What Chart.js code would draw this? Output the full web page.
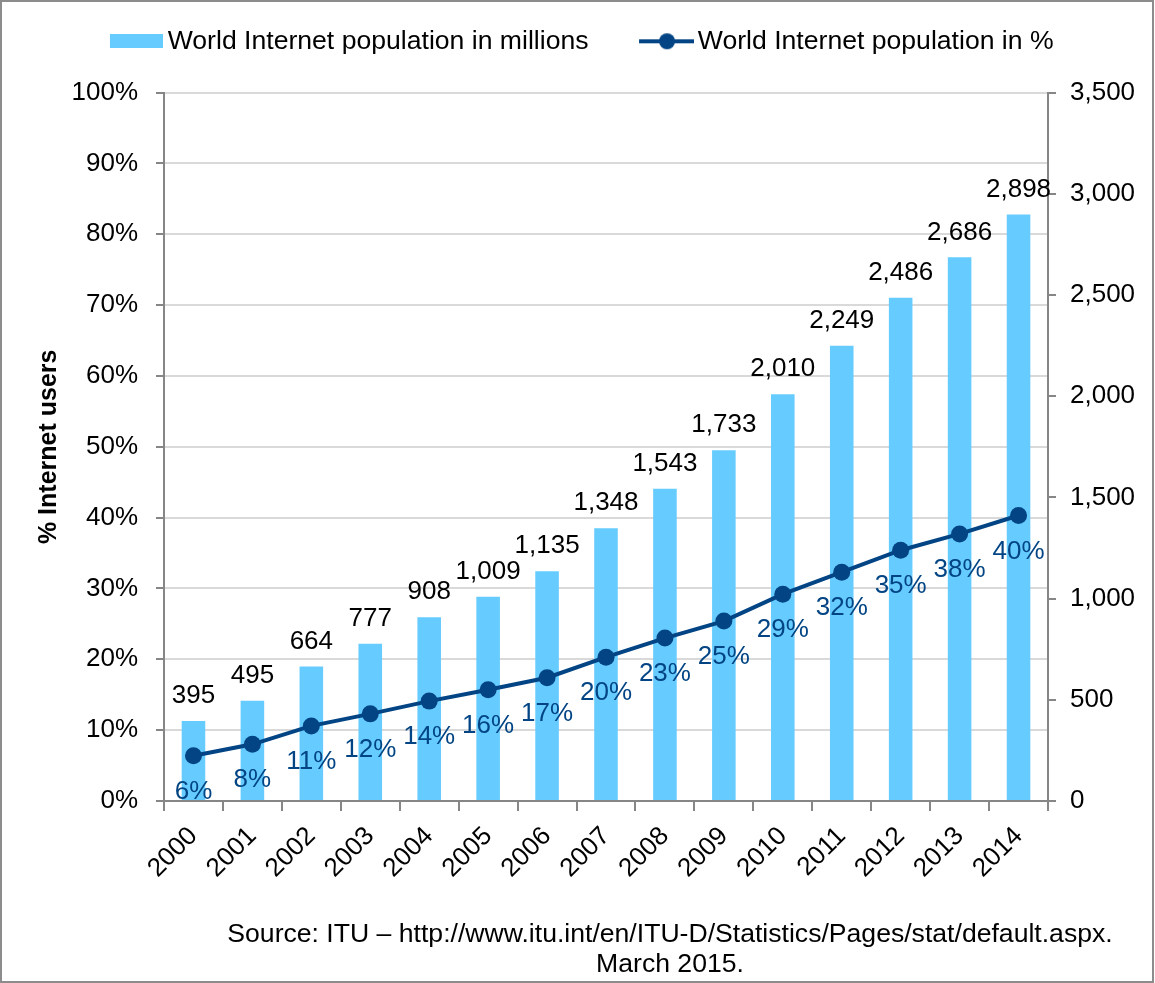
<!DOCTYPE html>
<html>
<head>
<meta charset="utf-8">
<script src="https://cdn.jsdelivr.net/npm/chart.js@4/dist/chart.umd.min.js"></script>
<style>
  body { margin: 0; background: #fff; }
  canvas { display: block; }
</style>
</head>
<body>
<canvas id="netChart" width="1155" height="983"></canvas>
<script>
const years = ['2000', '2001', '2002', '2003', '2004', '2005', '2006', '2007',
  '2008', '2009', '2010', '2011', '2012', '2013', '2014'];
const usersMillions = [395, 495, 664, 777, 908, 1009, 1135, 1348, 1543, 1733, 2010, 2249, 2486, 2686, 2898];
const usersPercent = [6.4, 8.0, 10.6, 12.3, 14.1, 15.7, 17.4, 20.3, 23.0, 25.4, 29.2, 32.3, 35.4, 37.7, 40.3];
const sourceLines = ['Source: ITU \u2013 http://www.itu.int/en/ITU-D/Statistics/Pages/stat/default.aspx.', 'March 2015.'];

const barColor = '#66CCFF';
const lineColor = '#034584';
const axisGray = '#868686';
const font = 'Liberation Sans, Arial, sans-serif';

// legend swatches as little canvases (offset so items land where Excel put them)
function barSwatch() {
  const c = document.createElement('canvas');
  c.width = 103; c.height = 14;
  const g = c.getContext('2d');
  g.fillStyle = barColor;
  g.fillRect(50, 0, 53, 14);
  return c;
}
function lineSwatch() {
  const c = document.createElement('canvas');
  c.width = 105; c.height = 18;
  const g = c.getContext('2d');
  g.strokeStyle = lineColor;
  g.lineWidth = 4;
  g.beginPath();
  g.moveTo(50, 9);
  g.lineTo(105, 9);
  g.stroke();
  g.fillStyle = lineColor;
  g.beginPath();
  g.arc(78, 9, 8, 0, Math.PI * 2);
  g.fill();
  return c;
}

const valueLabels = {
  id: 'valueLabels',
  afterDatasetsDraw(chart) {
    const ctx = chart.ctx;
    ctx.save();
    ctx.font = '26px ' + font;
    ctx.textAlign = 'center';
    ctx.textBaseline = 'middle';
    chart.getDatasetMeta(0).data.forEach((bar, i) => {
      ctx.fillStyle = '#000';
      ctx.fillText(usersMillions[i].toLocaleString('en-US'), bar.x, bar.y - 25);
    });
    chart.getDatasetMeta(1).data.forEach((pt, i) => {
      ctx.fillStyle = lineColor;
      ctx.fillText(Math.round(usersPercent[i]) + '%', pt.x, pt.y + 36);
    });
    ctx.restore();
  }
};

const frame = {
  id: 'frame',
  beforeDraw(chart) {
    const ctx = chart.ctx;
    ctx.save();
    ctx.fillStyle = '#fff';
    ctx.fillRect(0, 0, chart.width, chart.height);
    ctx.restore();
  },
  afterDraw(chart) {
    const ctx = chart.ctx;
    ctx.save();
    ctx.fillStyle = '#000';
    ctx.font = '26.6px ' + font;
    ctx.textAlign = 'center';
    ctx.textBaseline = 'middle';
    ctx.fillText(sourceLines[0], 670, 935);
    ctx.fillText(sourceLines[1], 670, 965);
    ctx.strokeStyle = '#8c8c8c';
    ctx.lineWidth = 2;
    ctx.strokeRect(1, 1, chart.width - 3, chart.height - 2);
    ctx.restore();
  }
};

new Chart(document.getElementById('netChart'), {
  type: 'bar',
  data: {
    labels: years,
    datasets: [{
      type: 'bar',
      label: 'World Internet population in millions',
      data: usersMillions,
      backgroundColor: barColor,
      yAxisID: 'y2',
      categoryPercentage: 1,
      barPercentage: 0.4,
      order: 2
    }, {
      type: 'line',
      label: 'World Internet population in %',
      data: usersPercent,
      borderColor: lineColor,
      backgroundColor: lineColor,
      borderWidth: 4,
      pointRadius: 8.5,
      pointBorderWidth: 0,
      pointBackgroundColor: lineColor,
      tension: 0,
      yAxisID: 'y',
      order: 1
    }]
  },
  options: {
    responsive: false,
    animation: false,
    layout: { padding: { top: 18, right: 0, bottom: 0, left: -33 } },
    plugins: {
      legend: {
        weight: 3000,
        labels: {
          usePointStyle: true,
          pointStyleWidth: 86,
          padding: 10,
          color: '#000',
          font: { family: font, size: 26.6 },
          generateLabels: () => [
            { text: 'World Internet population in millions', pointStyle: barSwatch(), datasetIndex: 0, lineWidth: 0, hidden: false },
            { text: 'World Internet population in %', pointStyle: lineSwatch(), datasetIndex: 1, lineWidth: 0, hidden: false }
          ]
        }
      },
      subtitle: {
        // empty spacer between legend and plot
        display: true,
        text: '',
        font: { size: 10, lineHeight: 1 },
        padding: { top: 0, bottom: 18 }
      },
      tooltip: { enabled: false }
    },
    scales: {
      x: {
        offset: true,
        grid: { display: true, drawOnChartArea: false, offset: true, color: axisGray, lineWidth: 2, tickLength: 10 },
        border: { color: axisGray, width: 2 },
        ticks: { color: '#000', font: { family: font, size: 26 }, minRotation: 45, maxRotation: 45, padding: 10 },
        afterFit: s => { s.height = 182; }
      },
      y: {
        position: 'left',
        min: 0,
        max: 100,
        ticks: { stepSize: 10, color: '#000', font: { family: font, size: 26 }, padding: 18, callback: v => v + '%' },
        grid: { color: '#d9d9d9', lineWidth: 2, tickColor: axisGray, tickLength: 8 },
        border: { color: axisGray, width: 2 },
        title: { display: true, text: '% Internet users', color: '#000', font: { family: font, size: 25, weight: 'bold', lineHeight: 1.2 }, padding: { top: 67, bottom: 0 } },
        afterFit: s => { s.width = 197; }
      },
      y2: {
        position: 'right',
        min: 0,
        max: 3500,
        ticks: { stepSize: 500, color: '#000', font: { family: font, size: 26 }, padding: 14, callback: v => v.toLocaleString('en-US') },
        grid: { drawOnChartArea: false, color: axisGray, lineWidth: 2, tickLength: 8 },
        border: { color: axisGray, width: 2 },
        afterFit: s => { s.width = 107; }
      }
    }
  },
  plugins: [valueLabels, frame]
});
</script>
</body>
</html>
